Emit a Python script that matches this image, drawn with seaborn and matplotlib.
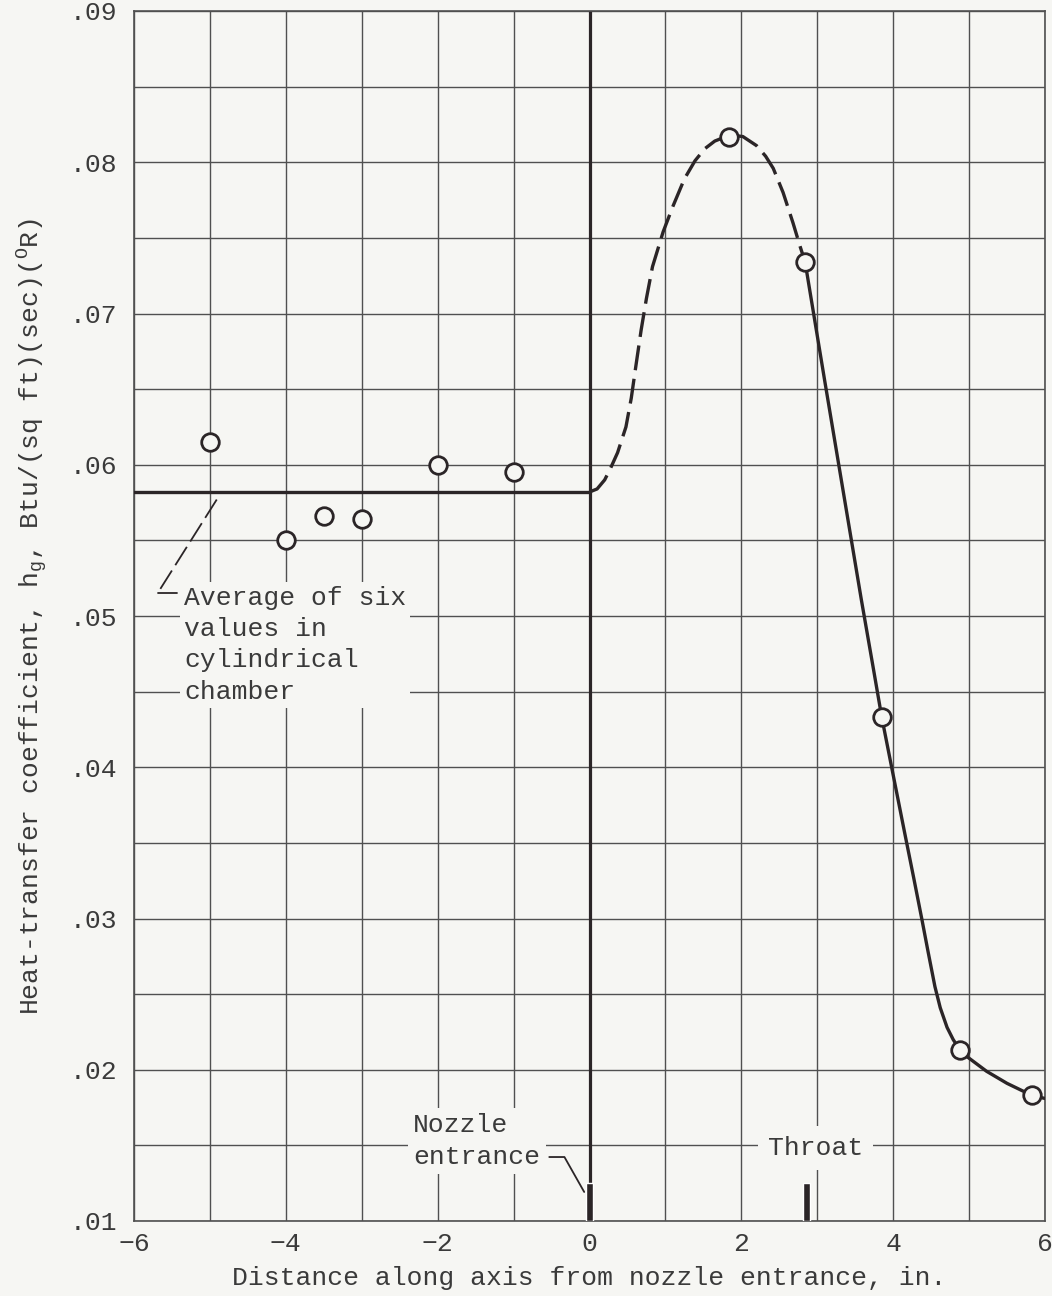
import numpy as np
import pandas as pd
import seaborn as sns
import matplotlib.pyplot as plt

pts_x = [-5, -4, -3.5, -3, -2, -1, 1.84, 2.84, 3.85, 4.88, 5.83]
pts_y = [0.0615, 0.0550, 0.0566, 0.0564, 0.0600, 0.0595, 0.0817, 0.0734, 0.0433, 0.0213, 0.0183]

# average of the six chamber values
avg_x = [-6, 0]
avg_y = [0.0582, 0.0582]

# faired curve, dashed part (nozzle entrance up to the peak and down)
dash_x = [0.0, 0.10, 0.20, 0.28, 0.37, 0.48, 0.55, 0.61, 0.68, 0.75, 0.83, 0.97, 1.10, 1.25,
          1.39, 1.52, 1.65, 1.85, 2.02, 2.20, 2.32, 2.42, 2.55, 2.68, 2.77, 2.84]
dash_y = [0.0582, 0.0584, 0.0590, 0.0598, 0.0608, 0.0625, 0.0644, 0.0665, 0.0689, 0.0710,
          0.0731, 0.0754, 0.0771, 0.0789, 0.0801, 0.0809, 0.0814, 0.0818, 0.0817, 0.0811,
          0.0804, 0.0796, 0.0780, 0.0760, 0.0745, 0.0734]

# faired curve, solid part (throat region and beyond)
solid_x = [2.84, 3.10, 3.39, 3.58, 3.74, 3.85, 3.98, 4.15, 4.27, 4.38, 4.46, 4.55, 4.62, 4.71,
           4.79, 4.88, 4.99, 5.23, 5.50, 5.83, 6.0]
solid_y = [0.0734, 0.0655, 0.0568, 0.0511, 0.0465, 0.0433, 0.0400, 0.0357, 0.0327, 0.0299,
           0.0278, 0.0255, 0.0241, 0.0228, 0.0220, 0.0213, 0.0208, 0.0199, 0.0191, 0.0183,
           0.0181]

# station markers at the bottom: nozzle entrance and throat
mark_x = [0.0, 2.86]
mark_top = [0.0125, 0.0125]

# leader lines for the notes
avg_lead_x = [-4.91, -5.69, -5.43]
avg_lead_y = [0.0577, 0.0515, 0.0515]
noz_lead_x = [-0.53, -0.33, -0.07]
noz_lead_y = [0.01423, 0.01423, 0.01192]

xticks = [-6, -4, -2, 0, 2, 4, 6]
yticks = [0.01, 0.02, 0.03, 0.04, 0.05, 0.06, 0.07, 0.08, 0.09]
ytick_labels = [".01", ".02", ".03", ".04", ".05", ".06", ".07", ".08", ".09"]

bg = "#f6f6f3"
ink = "#2b2527"
grid_c = "#505050"
txt_c = "#3a3a3a"

sns.set_theme(style="white")
plt.rcParams["font.family"] = ["Liberation Mono", "DejaVu Sans Mono"]
plt.rcParams["mathtext.fontset"] = "custom"
plt.rcParams["mathtext.rm"] = "Liberation Mono"
plt.rcParams["mathtext.it"] = "Liberation Mono"
plt.rcParams["text.color"] = txt_c
plt.rcParams["axes.labelcolor"] = txt_c
plt.rcParams["xtick.color"] = txt_c
plt.rcParams["ytick.color"] = txt_c

fs = 19
lw = 2.4

fig = plt.figure(figsize=(10.52, 12.96), dpi=100, facecolor=bg)
ax = fig.add_axes([134 / 1052, 75 / 1296, 911 / 1052, 1210 / 1296])
ax.set_facecolor(bg)

ax.set_xlim(-6, 6)
ax.set_ylim(0.01, 0.09)
ax.set_xticks(xticks)
ax.set_xticks(np.arange(-6, 7, 1), minor=True)
ax.set_yticks(yticks)
ax.set_yticklabels(ytick_labels)
ax.set_yticks(np.arange(0.015, 0.09, 0.01), minor=True)
ax.grid(which="both", color=grid_c, lw=1.0)
ax.set_axisbelow(True)
ax.tick_params(axis="x", which="both", length=0, pad=8, labelsize=fs)
ax.tick_params(axis="y", which="major", length=3, width=1, color=ink, pad=9, labelsize=fs)
ax.tick_params(axis="y", which="minor", length=0)
for s in ax.spines.values():
    s.set_color(grid_c)
    s.set_linewidth(1.2)

# heavy line at nozzle entrance
ax.axvline(mark_x[0], color=ink, lw=2.3, zorder=2)

sns.lineplot(x=avg_x, y=avg_y, ax=ax, color=ink, linewidth=lw, zorder=3)
sns.lineplot(x=dash_x, y=dash_y, ax=ax, color=ink, linewidth=lw, sort=False, estimator=None,
             linestyle=(0, (7.5, 2.6)), zorder=3)
sns.lineplot(x=solid_x, y=solid_y, ax=ax, color=ink, linewidth=lw, sort=False, estimator=None,
             zorder=3)
sns.scatterplot(x=pts_x, y=pts_y, ax=ax, marker="o", s=160, facecolor=bg, edgecolor=ink,
                linewidth=2.0, zorder=5)

ax.bar(mark_x, np.array(mark_top) - 0.01, bottom=0.01, width=0.09, color=ink, zorder=3)

# notes
box = dict(boxstyle="square", fc=bg, ec="none")
ax.text(-5.34, 0.0481, "Average of six\nvalues in\ncylindrical\nchamber", fontsize=fs,
        ha="left", va="center", linespacing=1.38, zorder=4, bbox=dict(box, pad=0.15))
ax.plot(avg_lead_x[:2], avg_lead_y[:2], color=ink, lw=1.3, ls=(0, (12, 3.5)), zorder=4)
ax.plot(avg_lead_x[1:], avg_lead_y[1:], color=ink, lw=1.3, zorder=4)

ax.text(-2.32, 0.01529, "Nozzle\nentrance", fontsize=fs, ha="left", va="center",
        linespacing=1.38, zorder=4, bbox=dict(box, pad=0.2))
ax.plot(noz_lead_x, noz_lead_y, color=ink, lw=1.3, zorder=4)

ax.text(2.98, 0.01483, "Throat", fontsize=fs, ha="center", va="center", zorder=4,
        bbox=dict(box, pad=0.37))

ax.set_xlabel("Distance along axis from nozzle entrance, in.", fontsize=fs, labelpad=7)
ax.set_ylabel(r"Heat-transfer coefficient, h$_\mathrm{g}$, Btu/(sq ft)(sec)($^\mathrm{O}$R)",
              fontsize=fs, labelpad=14)

fig.savefig("out.png", dpi=100, facecolor=bg)
